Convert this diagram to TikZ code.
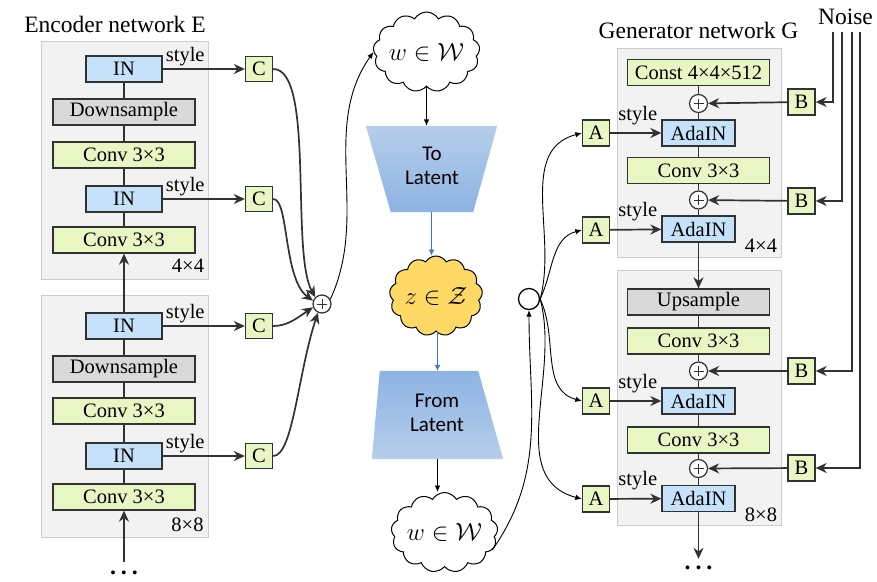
\documentclass[tikz,border=0pt]{standalone}
\usepackage{fontspec}
\setmainfont{Liberation Serif}
\newfontfamily\sansf{Carlito}
\usetikzlibrary{arrows.meta,shapes.symbols,calc}
\definecolor{boxgreen}{RGB}{232,246,196}
\definecolor{boxblue}{RGB}{197,226,250}
\definecolor{boxgray}{RGB}{217,217,217}
\definecolor{blkfill}{RGB}{242,242,242}
\definecolor{blkdraw}{RGB}{205,205,205}
\definecolor{bord}{RGB}{50,50,50}
\definecolor{latblue}{RGB}{68,114,196}
\definecolor{trapA}{RGB}{182,206,235}
\definecolor{trapB}{RGB}{141,179,226}
\definecolor{zyellow}{RGB}{255,217,102}
\begin{document}
\begin{tikzpicture}[x=1pt,y=1pt,
  font=\fontsize{20.5}{22}\selectfont,
  bx/.style={draw=bord, line width=1.3pt, inner sep=0pt, minimum height=26pt},
  widebox/.style={bx, minimum width=142pt},
  narrowbox/.style={bx, minimum width=76pt},
  adabox/.style={bx, minimum width=73pt},
  smallbox/.style={bx, minimum width=27pt, minimum height=25pt},
  gr/.style={fill=boxgreen},
  bl/.style={fill=boxblue},
  gy/.style={fill=boxgray},
  blk/.style={draw=blkdraw, fill=blkfill, line width=1pt},
  ln/.style={draw=bord, line width=1.7pt},
  arr/.style={ln, -{Stealth[length=11pt,width=10pt,inset=3.5pt]}},
  tarr/.style={draw=black, line width=0.9pt, -{Latex[length=6.5pt,width=5.5pt]}},
  barr/.style={draw=latblue, line width=0.9pt, -{Latex[length=6pt,width=6pt]}},
  pls/.style={circle, draw=bord, line width=1.2pt, fill=white, minimum size=18pt, inner sep=0pt,
    path picture={\draw[line width=1pt] ([xshift=-5pt]path picture bounding box.center) -- ([xshift=5pt]path picture bounding box.center);
                  \draw[line width=1pt] ([yshift=-5pt]path picture bounding box.center) -- ([yshift=5pt]path picture bounding box.center);}},
  lbl/.style={inner sep=0pt, font=\fontsize{20.5}{22}\selectfont},
  ttl/.style={inner sep=0pt, font=\fontsize{23.5}{26}\selectfont},
  dots/.style={inner sep=0pt, font=\bfseries\fontsize{24}{26}\selectfont},
  cld/.style={cloud, cloud puffs=13, cloud puff arc=120, cloud ignores aspect, draw=black, line width=1pt,
    inner sep=0pt, minimum width=93pt, minimum height=80pt, font=\fontsize{23}{25}\selectfont},
  trap/.style={inner sep=0pt, minimum width=131pt},
  trtext/.style={align=center, inner sep=0pt, font=\sansf\fontsize{21}{24.5}\selectfont},
]
\path[use as bounding box] (0,0) rectangle (877,-581);

% ---------------- Encoder ----------------
\node[ttl] (encT) at (115,-24.5) {Encoder network E};
\filldraw[blk] (41,-41) rectangle (208,-279);
\filldraw[blk] (41,-295) rectangle (208,-537);

\node[narrowbox,bl] (eIN1) at (124,-69) {IN};
\node[widebox,gy] (eDS1) at (124,-112) {Downsample};
\node[widebox,gr] (eCv1) at (124,-155) {Conv 3×3};
\node[narrowbox,bl] (eIN2) at (124,-199) {IN};
\node[widebox,gr] (eCv2) at (124,-240) {Conv 3×3};
\node[lbl] (eS1) at (188,-265.5) {4×4};

\node[narrowbox,bl] (eIN3) at (124,-326) {IN};
\node[widebox,gy] (eDS2) at (124,-369) {Downsample};
\node[widebox,gr] (eCv3) at (124,-411) {Conv 3×3};
\node[narrowbox,bl] (eIN4) at (124,-456) {IN};
\node[widebox,gr] (eCv4) at (124,-497) {Conv 3×3};
\node[lbl] (eS2) at (187.5,-525) {8×8};

\draw[ln] (eIN1) -- (eDS1) -- (eCv1) -- (eIN2) -- (eCv2);
\draw[ln] (eIN3) -- (eDS2) -- (eCv3) -- (eIN4) -- (eCv4);
\draw[arr] (eIN3) -- (eCv2);
\node[dots] (eDots) at (124,-573) {.\hspace{5pt}.\hspace{5pt}.};
\draw[arr, shorten <=9pt] (eDots.north) -- (eCv4.south);

\foreach \i/\y in {1/-69,2/-199,3/-326,4/-456}{
  \node[smallbox,gr] (cC\i) at (259,\y) {C};
  \draw[arr] (eIN\i) -- (cC\i);
  \node[lbl,anchor=south west] (eSt\i) at ([xshift=3pt,yshift=3pt]eIN\i.east) {style};
}

\node[pls] (pl) at (322,-304) {};
\draw[arr] (cC1.east) .. controls +(42,0) and +(-25,45) .. (pl.135);
\draw[arr] (cC2.east) .. controls +(16,0) and +(-30,22) .. (pl.160);
\draw[arr] (cC3.east) .. controls +(15,0) and +(-15,-10) .. (pl.200);
\draw[arr] (cC4.east) .. controls +(20,0) and +(-20,-60) .. (pl.245);

% ---------------- Middle ----------------
\node[cld] (wT) at (426.5,-52) {$w\in\mathcal{W}$};
\node[trap, minimum height=86pt] (toL) at (431.5,-169) {};
\shade[top color=trapA, bottom color=trapB] (toL.north west) -- (toL.north east)
  -- ([xshift=-24pt]toL.south east) -- ([xshift=25pt]toL.south west) -- cycle;
\node[trtext] (toLt) at (432,-166) {To\\Latent};

\node[cld, fill=zyellow] (zC) at (436,-296) {$z\in\mathcal{Z}$};

\node[trap, minimum height=88pt] (fromL) at (437.5,-415) {};
\shade[top color=trapB, bottom color=trapA] (fromL.south west) -- (fromL.south east)
  -- ([xshift=-25pt]fromL.north east) -- ([xshift=8pt]fromL.north west) -- cycle;
\node[trtext] (fromLt) at (437,-413) {From\\Latent};

\node[cld] (wB) at (444.5,-532.5) {$w\in\mathcal{W}$};

\draw[tarr] (wT.south) -- (wT.south |- toL.north);
\draw[barr] (toL.south) -- (toL.south |- zC.north);
\draw[barr] (fromL.north |- zC.south) -- (fromL.north);
\draw[tarr] (fromL.south) -- (fromL.south |- wB.north);

\draw[tarr] (pl.30) to[out=65,in=235,looseness=0.95] (wT.west);

\node[circle, draw=black, line width=1.3pt, fill=white, minimum size=21pt, inner sep=0pt] (oc) at (529,-299) {};
\draw[tarr] (wB.-20) to[out=55,in=-90] (oc.south);

% ---------------- Generator ----------------
\node[ttl] (genT) at (698.5,-30.5) {Generator network G};
\node[ttl] (noiseT) at (845.5,-16.5) {Noise};
\filldraw[blk] (617,-48) rectangle (781,-257);
\filldraw[blk] (617,-270) rectangle (781,-525);

\node[widebox,gr] (gConst) at (698.5,-72.5) {Const 4×4×512};
\node[pls] (gP1) at (698.5,-103.5) {};
\node[adabox,bl] (gAd1) at (698.5,-133) {AdaIN};
\node[widebox,gr] (gCv1) at (698.5,-170.5) {Conv 3×3};
\node[pls] (gP2) at (698.5,-200) {};
\node[adabox,bl] (gAd2) at (698.5,-229) {AdaIN};
\node[lbl] (gS1) at (761,-246) {4×4};

\node[widebox,gy] (gUp) at (698.5,-302) {Upsample};
\node[widebox,gr] (gCv2) at (698.5,-341) {Conv 3×3};
\node[pls] (gP3) at (698.5,-371) {};
\node[adabox,bl] (gAd3) at (698.5,-401) {AdaIN};
\node[widebox,gr] (gCv3) at (698.5,-440) {Conv 3×3};
\node[pls] (gP4) at (698.5,-468.5) {};
\node[adabox,bl] (gAd4) at (698.5,-498.5) {AdaIN};
\node[lbl] (gS2) at (761,-515) {8×8};

\draw[ln] (gConst) -- (gP1) -- (gAd1) -- (gCv1) -- (gP2) -- (gAd2);
\draw[arr] (gAd2) -- (gUp);
\draw[ln] (gUp) -- (gCv2) -- (gP3) -- (gAd3) -- (gCv3) -- (gP4) -- (gAd4);
\node[dots] (gDots) at (698.5,-568) {.\hspace{5pt}.\hspace{5pt}.};
\draw[arr, shorten >=7pt] (gAd4) -- (gDots.north);

\foreach \i/\y in {1/-133,2/-230,3/-401,4/-499}{
  \node[smallbox,gr,minimum height=26pt] (gA\i) at (596,\y) {A};
  \draw[arr] (gA\i) -- (gAd\i);
  \node[lbl,anchor=south east] (gSt\i) at ([xshift=-4pt,yshift=8pt]gAd\i.west) {style};
}
\draw[tarr] (oc.east) to[out=75,in=195] (gA1.west);
\draw[tarr] (oc.east) to[out=65,in=195] (gA2.west);
\draw[tarr] (oc.east) to[out=-65,in=165] (gA3.west);
\draw[tarr] (oc.east) to[out=-75,in=165] (gA4.west);

\foreach \i/\y/\x in {1/-102/833,2/-201/842,3/-371/852,4/-468/860}{
  \node[smallbox,gr,minimum height=26pt] (gB\i) at (801.5,\y) {B};
  \draw[arr] (gB\i) -- (gP\i);
  \coordinate (n\i) at (\x,-32);
  \draw[arr] (n\i) |- (gB\i.east);
}
\end{tikzpicture}
\end{document}
